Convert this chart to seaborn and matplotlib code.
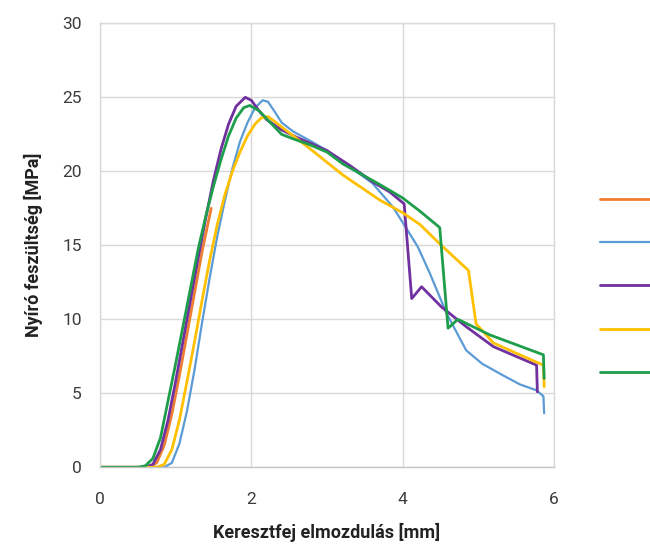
import seaborn as sns
import pandas as pd
import matplotlib
matplotlib.use('Agg')
from matplotlib import pyplot as plt

# Values (x: crosshead displacement in mm, y: shear stress in MPa)
orange_x = [0, 0.65, 0.75, 0.85, 0.95, 1.05, 1.15, 1.25, 1.35, 1.47]
orange_y = [0, 0, 0.3, 1.5, 3.6, 6.2, 9.0, 11.8, 14.6, 17.5]

blue_x = [0, 0.85, 0.95, 1.05, 1.15, 1.25, 1.35, 1.45, 1.55, 1.65, 1.75, 1.85, 1.95, 2.05,
          2.15, 2.22, 2.3, 2.4, 2.55, 2.8, 3.0, 3.3, 3.6, 3.87, 4.03, 4.2, 4.36, 4.58, 4.84,
          5.05, 5.33, 5.55, 5.77, 5.86, 5.87]
blue_y = [0, 0, 0.3, 1.6, 3.8, 6.6, 9.8, 12.8, 15.6, 18.0, 20.2, 22.0, 23.3, 24.3,
          24.8, 24.7, 24.1, 23.3, 22.7, 22.0, 21.4, 20.3, 19.2, 17.6, 16.3, 14.9, 13.1, 10.4, 7.9,
          7.0, 6.2, 5.6, 5.2, 4.8, 3.65]

purple_x = [0, 0.6, 0.7, 0.8, 0.9, 1.0, 1.1, 1.2, 1.3, 1.4, 1.5, 1.6, 1.7, 1.8, 1.92, 2.0,
            2.1, 2.2, 2.4, 2.6, 3.0, 3.3, 3.6, 3.83, 4.02, 4.12, 4.25, 4.51, 4.84, 5.2, 5.77, 5.78]
purple_y = [0, 0, 0.2, 1.2, 3.2, 5.8, 8.6, 11.4, 14.2, 16.9, 19.4, 21.5, 23.2, 24.4, 25.0, 24.8,
            24.1, 23.5, 22.8, 22.3, 21.4, 20.4, 19.3, 18.6, 17.8, 11.4, 12.2, 10.85, 9.5, 8.15, 6.9, 5.1]

yellow_x = [0, 0.75, 0.85, 0.95, 1.05, 1.15, 1.25, 1.35, 1.45, 1.55, 1.65, 1.75, 1.85, 1.95,
            2.05, 2.13, 2.22, 2.3, 2.45, 2.77, 3.21, 3.7, 4.0, 4.23, 4.49, 4.87, 4.97, 5.2,
            5.77, 5.86, 5.87]
yellow_y = [0, 0, 0.2, 1.2, 3.2, 5.8, 8.5, 11.3, 14.0, 16.4, 18.4, 20.0, 21.3, 22.4,
            23.2, 23.6, 23.7, 23.4, 22.8, 21.55, 19.75, 18.05, 17.2, 16.4, 15.1, 13.3, 9.7, 8.4,
            7.1, 6.9, 5.45]

green_x = [0, 0.5, 0.6, 0.7, 0.8, 0.9, 1.0, 1.1, 1.2, 1.3, 1.4, 1.5, 1.6, 1.7, 1.8, 1.9,
           1.98, 2.1, 2.25, 2.4, 2.55, 2.77, 3.0, 3.21, 3.7, 4.0, 4.23, 4.49, 4.6, 4.73, 5.15,
           5.86, 5.87]
green_y = [0, 0, 0.1, 0.6, 2.0, 4.5, 7.0, 9.6, 12.2, 14.8, 17.0, 19.0, 20.8, 22.4, 23.6, 24.3,
           24.45, 24.1, 23.3, 22.5, 22.2, 21.8, 21.3, 20.5, 19.1, 18.2, 17.3, 16.2, 9.4, 10.0, 8.95,
           7.6, 6.0]

series = ['1', '2', '3', '4', '5']
colors = ['#ED7D31', '#5B9BD5', '#7030A0', '#FFC000', '#1E9E4A']
widths = [2.0, 1.6, 2.0, 2.0, 2.0]
xs = [orange_x, blue_x, purple_x, yellow_x, green_x]
ys = [orange_y, blue_y, purple_y, yellow_y, green_y]

sns.set_style('whitegrid')
plt.rcParams['font.family'] = ['Roboto', 'DejaVu Sans']

fig = plt.figure(figsize=(6.5, 5.45), dpi=100)
ax = fig.add_axes([0.1538, 0.1426, 0.6985, 0.8146])

handles = []
for name, c, w, x, y in zip(series, colors, widths, xs, ys):
    df = pd.DataFrame({'x': x, 'y': y})
    sns.lineplot(data=df, x='x', y='y', sort=False, color=c, linewidth=w, ax=ax, estimator=None)
    handles.append(ax.lines[-1])

ax.set_xlim(0, 6)
ax.set_ylim(0, 30)
ax.set_xticks([0, 2, 4, 6])
ax.set_yticks([0, 5, 10, 15, 20, 25, 30])
ax.grid(color='#d9d9d9', linewidth=1.0)
for s in ax.spines.values():
    s.set_color('#d9d9d9')
    s.set_linewidth(1.0)
ax.spines['bottom'].set_color('#c4c4c4')
ax.tick_params(length=0, labelsize=12.5, labelcolor='#3c3c3c')
ax.tick_params(axis='y', pad=13)
ax.tick_params(axis='x', pad=18)

ax.set_xlabel('Keresztfej elmozdulás [mm]', fontsize=13, fontweight='bold', color='#222222', labelpad=11)
ax.set_ylabel('Nyíró feszültség [MPa]', fontsize=13, fontweight='bold', color='#222222', labelpad=14)

fig.legend(handles, [' '] * 5, loc='upper left', bbox_to_anchor=(0.923, 0.646),
           frameon=False, handlelength=4, fontsize=10, labelspacing=2.1,
           borderpad=0, borderaxespad=0, handletextpad=0.5)

fig.savefig('out.png', dpi=100, facecolor='white')
